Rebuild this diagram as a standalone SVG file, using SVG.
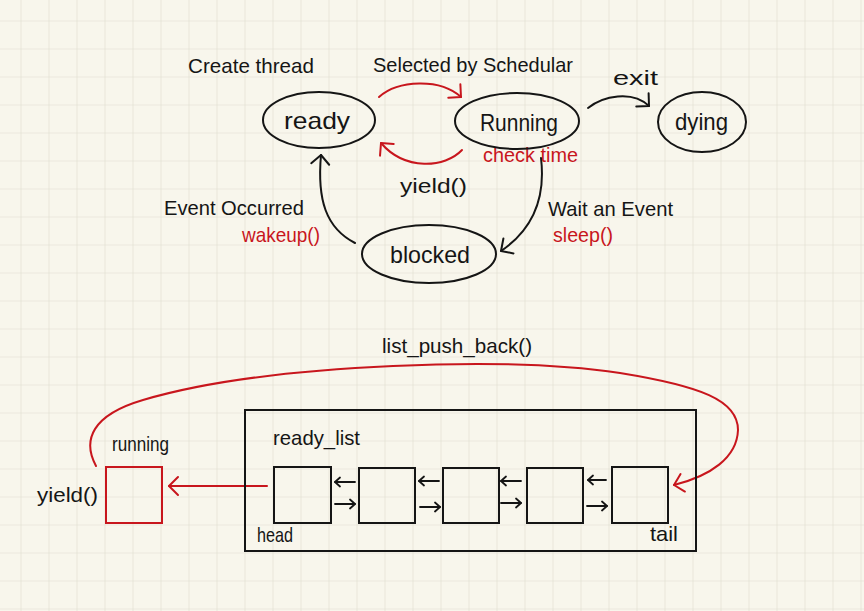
<svg xmlns="http://www.w3.org/2000/svg" width="864" height="611" viewBox="0 0 864 611">
<defs>
<pattern id="grid" x="20.5" y="20.5" width="28" height="28" patternUnits="userSpaceOnUse">
<path d="M0,0 H28 M0,0 V28" fill="none" stroke="#e0dccf" stroke-width="1.2"/>
</pattern>
<marker id="ahK" viewBox="-12 -12 14 24" markerWidth="14" markerHeight="24" refX="0" refY="0" orient="auto" markerUnits="userSpaceOnUse">
<path d="M-9,-9 L0,0 L-9,9" fill="none" stroke="#151515" stroke-width="2" stroke-linecap="round" stroke-linejoin="round"/>
</marker>
<marker id="ahR" viewBox="-12 -12 14 24" markerWidth="14" markerHeight="24" refX="0" refY="0" orient="auto" markerUnits="userSpaceOnUse">
<path d="M-9,-9 L0,0 L-9,9" fill="none" stroke="#c8161d" stroke-width="2" stroke-linecap="round" stroke-linejoin="round"/>
</marker>
<marker id="ahS" viewBox="-8 -8 10 16" markerWidth="10" markerHeight="16" refX="0" refY="0" orient="auto" markerUnits="userSpaceOnUse">
<path d="M-5,-4.5 L0,0 L-5,4.5" fill="none" stroke="#151515" stroke-width="1.8" stroke-linecap="round" stroke-linejoin="round"/>
</marker>
</defs>
<style>
text{font-family:"Liberation Sans","DejaVu Sans",sans-serif;fill:#151515;font-size:21px}
.red{fill:#c8161d}
.big{font-size:24px}
.node{fill:none;stroke:#151515;stroke-width:2}
.rnode{fill:none;stroke:#c8161d;stroke-width:2}
.ck{fill:none;stroke:#151515;stroke-width:2;stroke-linecap:round}
.cr{fill:none;stroke:#c8161d;stroke-width:2;stroke-linecap:round}
.cs{fill:none;stroke:#151515;stroke-width:1.8;stroke-linecap:round}
</style>
<rect x="0" y="0" width="864" height="611" fill="#f8f6ec"/>
<rect x="0" y="0" width="864" height="611" fill="url(#grid)"/>

<g id="connectors">
<path class="cr" d="M379,97 C398,80 440,78 461,97" marker-end="url(#ahR)"/>
<path class="cr" d="M462,150 C445,168 405,171 381,143" marker-end="url(#ahR)"/>
<path class="ck" d="M588,108 C603,96 632,90 649,106" marker-end="url(#ahK)"/>
<path class="ck" d="M355,243 C326,228 317,200 321,155" marker-end="url(#ahK)"/>
<path class="ck" d="M541,158 C546,200 532,230 501,251" marker-end="url(#ahK)"/>
<path class="cr" d="M267,486 L169,486" marker-end="url(#ahR)"/>
<path class="cr" d="M96,466 C82,440 92,415 143,400 C190,386 260,372 393,366 C480,362 560,364 620,373 C700,386 738,400 738,430 C737,458 710,476 674,485" marker-end="url(#ahR)"/>
<path class="cs" d="M355,482 L335,482" marker-end="url(#ahS)"/>
<path class="cs" d="M335,504 L355,504" marker-end="url(#ahS)"/>
<path class="cs" d="M439,481 L419,481" marker-end="url(#ahS)"/>
<path class="cs" d="M420,507 L440,507" marker-end="url(#ahS)"/>
<path class="cs" d="M521,481 L501,481" marker-end="url(#ahS)"/>
<path class="cs" d="M501,503 L521,503" marker-end="url(#ahS)"/>
<path class="cs" d="M606,480 L588,480" marker-end="url(#ahS)"/>
<path class="cs" d="M587,506 L607,506" marker-end="url(#ahS)"/>
</g>

<g id="labels">
<text x="188" y="73" textLength="126" lengthAdjust="spacingAndGlyphs">Create thread</text>
<text x="373" y="72" textLength="200" lengthAdjust="spacingAndGlyphs">Selected by Schedular</text>
<text x="483" y="162" textLength="95" lengthAdjust="spacingAndGlyphs" class="red">check time</text>
<text x="400" y="193" textLength="67" lengthAdjust="spacingAndGlyphs">yield()</text>
<text x="613" y="85" textLength="45" lengthAdjust="spacingAndGlyphs">exit</text>
<text x="164" y="215" textLength="140" lengthAdjust="spacingAndGlyphs">Event Occurred</text>
<text x="242" y="242" textLength="78" lengthAdjust="spacingAndGlyphs" class="red">wakeup()</text>
<text x="548" y="216" textLength="125" lengthAdjust="spacingAndGlyphs">Wait an Event</text>
<text x="553" y="242" textLength="60" lengthAdjust="spacingAndGlyphs" class="red">sleep()</text>
<text x="382" y="353" textLength="150" lengthAdjust="spacingAndGlyphs">list_push_back()</text>
<text x="37" y="502" textLength="61" lengthAdjust="spacingAndGlyphs">yield()</text>
</g>

<g id="ready">
<ellipse class="node" cx="319" cy="120" rx="56" ry="28"/>
<text x="284" y="129" textLength="66" lengthAdjust="spacingAndGlyphs" class="big">ready</text>
</g>
<g id="running">
<ellipse class="node" cx="517" cy="121" rx="62" ry="28"/>
<text x="480" y="131" textLength="78" lengthAdjust="spacingAndGlyphs" class="big">Running</text>
</g>
<g id="dying">
<ellipse class="node" cx="702" cy="122" rx="44" ry="30"/>
<text x="675" y="130" textLength="53" lengthAdjust="spacingAndGlyphs" class="big">dying</text>
</g>
<g id="blocked">
<ellipse class="node" cx="429" cy="254" rx="67" ry="29"/>
<text x="390" y="263" textLength="80" lengthAdjust="spacingAndGlyphs" class="big">blocked</text>
</g>

<g id="running-slot">
<rect class="rnode" x="106" y="467" width="56" height="56"/>
<text x="112" y="451" textLength="57" lengthAdjust="spacingAndGlyphs">running</text>
</g>
<g id="ready-list">
<rect class="node" x="245" y="410" width="451" height="141"/>
<text x="273" y="445" textLength="87" lengthAdjust="spacingAndGlyphs">ready_list</text>
<text x="257" y="542" textLength="36" lengthAdjust="spacingAndGlyphs">head</text>
<text x="650" y="541" textLength="28" lengthAdjust="spacingAndGlyphs">tail</text>
</g>
<g id="item1"><rect class="node" x="274" y="467" width="57" height="56"/></g>
<g id="item2"><rect class="node" x="359" y="468" width="56" height="55"/></g>
<g id="item3"><rect class="node" x="443" y="468" width="56" height="55"/></g>
<g id="item4"><rect class="node" x="527" y="468" width="56" height="55"/></g>
<g id="item5"><rect class="node" x="612" y="467" width="56" height="56"/></g>
</svg>
